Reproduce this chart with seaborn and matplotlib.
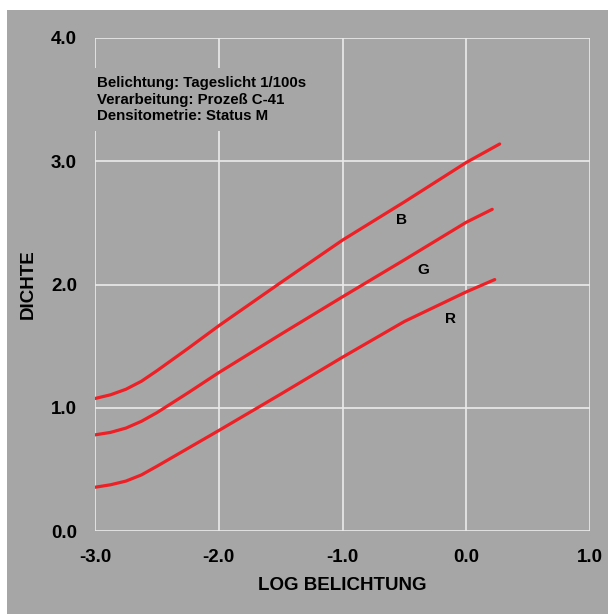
import matplotlib
matplotlib.use("Agg")
import matplotlib.pyplot as plt
from matplotlib.patches import Rectangle
import pandas as pd
import seaborn as sns

# characteristic curves
log_e_b = [-3.0, -2.875, -2.75, -2.625, -2.5, -2.25, -2.0, -1.5, -1.0, -0.5, 0.0, 0.27]
dens_b = [1.075, 1.105, 1.15, 1.215, 1.30, 1.48, 1.665, 2.015, 2.36, 2.67, 2.99, 3.14]
log_e_g = [-3.0, -2.875, -2.75, -2.625, -2.5, -2.25, -2.0, -1.5, -1.0, -0.5, 0.0, 0.21]
dens_g = [0.78, 0.80, 0.835, 0.89, 0.96, 1.12, 1.285, 1.595, 1.90, 2.20, 2.505, 2.61]
log_e_r = [-3.0, -2.875, -2.75, -2.625, -2.5, -2.25, -2.0, -1.5, -1.0, -0.5, 0.0, 0.23]
dens_r = [0.355, 0.375, 0.405, 0.455, 0.525, 0.67, 0.815, 1.11, 1.41, 1.70, 1.94, 2.04]

curve_names = ["B", "G", "R"]
label_pos = {"B": (-0.52, 2.52), "G": (-0.35, 2.12), "R": (-0.13, 1.72)}

x_ticks = [-3.0, -2.0, -1.0, 0.0, 1.0]
y_ticks = [0.0, 1.0, 2.0, 3.0, 4.0]

info_lines = [
    "Belichtung: Tageslicht 1/100s",
    "Verarbeitung: Prozeß C-41",
    "Densitometrie: Status M",
]

df = pd.concat([
    pd.DataFrame({"log_e": log_e_b, "dichte": dens_b, "schicht": "B"}),
    pd.DataFrame({"log_e": log_e_g, "dichte": dens_g, "schicht": "G"}),
    pd.DataFrame({"log_e": log_e_r, "dichte": dens_r, "schicht": "R"}),
], ignore_index=True)

BG = "#a6a6a6"
RED = "#ee2026"

sns.set_theme(style="whitegrid", rc={
    "axes.facecolor": BG,
    "grid.color": "#ebebeb",
    "grid.linewidth": 1.2,
    "text.color": "black",
    "axes.labelcolor": "black",
    "xtick.color": "black",
    "ytick.color": "black",
})
plt.rcParams["font.family"] = ["Liberation Sans", "DejaVu Sans"]
plt.rcParams["font.weight"] = "bold"

fig = plt.figure(figsize=(6.08, 6.14), dpi=100)
fig.patch.set_facecolor("white")
fig.patches.append(Rectangle((7 / 608, 0), 1, (614 - 10) / 614,
                             transform=fig.transFigure, facecolor=BG,
                             edgecolor="none", zorder=-10))
ax = fig.add_axes([95 / 608, 83 / 614, 495 / 608, 493 / 614])

sns.lineplot(data=df, x="log_e", y="dichte", hue="schicht",
             palette={n: RED for n in curve_names}, estimator=None,
             linewidth=2.3, legend=False, ax=ax)
for ln in ax.lines:
    ln.set_solid_joinstyle("round")
    ln.set_solid_capstyle("round")

for name in curve_names:
    lx, ly = label_pos[name]
    ax.text(lx, ly, name, fontsize=11, fontweight="bold",
            ha="center", va="center")

ax.text(-2.985, 3.50, "\n".join(info_lines), fontsize=10.8, fontweight="bold",
        ha="left", va="center", linespacing=1.22,
        bbox=dict(facecolor=BG, edgecolor="none", pad=6))

ax.set_xlim(-3, 1)
ax.set_ylim(0, 4)
ax.set_xticks(x_ticks)
ax.set_yticks(y_ticks)
ax.set_xticklabels([f"{v:.1f}" for v in x_ticks])
ax.set_yticklabels([f"{v:.1f}" for v in y_ticks])
ax.tick_params(axis="both", length=0, labelsize=13.5, pad=13)
for lbl in ax.get_xticklabels() + ax.get_yticklabels():
    lbl.set_fontweight("bold")
ax.set_xlabel("LOG BELICHTUNG", fontsize=13.5, fontweight="bold", labelpad=8)
ax.set_ylabel("DICHTE", fontsize=13.5, fontweight="bold", labelpad=10)
for s in ax.spines.values():
    s.set_visible(False)
ax.set_axisbelow(True)

fig.savefig("out.png", dpi=100)
